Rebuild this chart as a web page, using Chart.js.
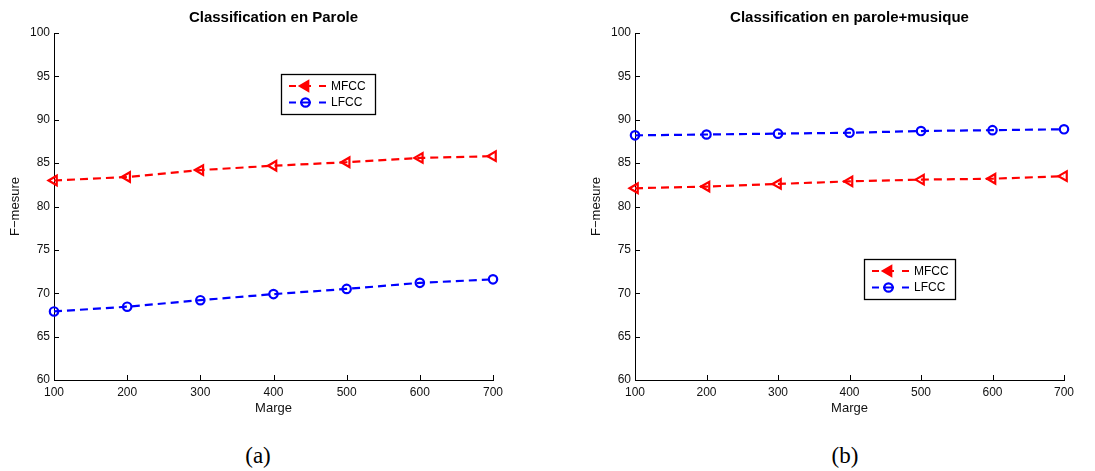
<!DOCTYPE html>
<html>
<head>
<meta charset="utf-8">
<script src="https://cdn.jsdelivr.net/npm/chart.js@4.4.1/dist/chart.umd.min.js"></script>
<style>
  body { margin: 0; background: #fff; width: 1095px; height: 471px; position: relative; overflow: hidden; }
  .panel { position: absolute; top: 0; }
  .panel canvas { display: block; }
  .cap { position: absolute; font-family: 'Liberation Serif', serif; font-size: 23px; line-height: 23px; color: #000; transform: translateX(-50%); }
</style>
</head>
<body>
<div class="panel" style="left:0"><canvas id="chartA" width="547" height="425"></canvas></div>
<div class="panel" style="left:547px"><canvas id="chartB" width="548" height="425"></canvas></div>
<div class="cap" style="left:258px;top:444px">(a)</div>
<div class="cap" style="left:845px;top:444px">(b)</div>
<script>
// values
const marges = [100, 200, 300, 400, 500, 600, 700];
const paroleMfcc = [83.0, 83.4, 84.2, 84.7, 85.1, 85.6, 85.8];
const paroleLfcc = [67.9, 68.45, 69.2, 69.9, 70.5, 71.2, 71.6];
const musiqueMfcc = [82.1, 82.3, 82.6, 82.9, 83.1, 83.2, 83.5];
const musiqueLfcc = [88.2, 88.3, 88.4, 88.5, 88.7, 88.8, 88.9];
const yMin = 60, yMax = 100, yStep = 5;

Chart.defaults.font.family = "'Liberation Sans', Arial, sans-serif";
Chart.defaults.font.size = 12;
Chart.defaults.color = '#111';

function drawMarker(ctx, style, cx, cy, r) {
  ctx.beginPath();
  if (style === 'triangle') {
    // pointing left, filled in the legend like the small MATLAB glyph
    let rad = -Math.PI / 2;
    for (let k = 0; k < 3; k++) {
      const px = cx + Math.sin(rad) * r, py = cy - Math.cos(rad) * r;
      if (k === 0) ctx.moveTo(px, py); else ctx.lineTo(px, py);
      rad += 2 * Math.PI / 3;
    }
    ctx.closePath();
    ctx.fillStyle = ctx.strokeStyle;
    ctx.fill();
  } else {
    ctx.arc(cx, cy, r, 0, Math.PI * 2);
  }
  ctx.stroke();
}

// MATLAB style ticks pointing into the plot
const insideTicks = {
  id: 'insideTicks',
  afterDatasetsDraw(chart) {
    const { ctx, chartArea: a, scales: { x, y } } = chart;
    ctx.save();
    ctx.strokeStyle = '#000';
    ctx.lineWidth = 1;
    ctx.beginPath();
    x.ticks.forEach(t => {
      const px = Math.round(x.getPixelForValue(t.value)) + 0.5;
      ctx.moveTo(px, a.bottom);
      ctx.lineTo(px, a.bottom - 5);
    });
    y.ticks.forEach(t => {
      const py = Math.round(y.getPixelForValue(t.value)) + 0.5;
      ctx.moveTo(a.left, py);
      ctx.lineTo(a.left + 5, py);
    });
    ctx.stroke();
    ctx.restore();
  }
};

// boxed legend placed inside the axes
const boxLegend = {
  id: 'boxLegend',
  afterDraw(chart, args, opts) {
    const { ctx } = chart;
    const { x, y, w, h } = opts;
    ctx.save();
    ctx.fillStyle = '#fff';
    ctx.fillRect(x, y, w, h);
    ctx.strokeStyle = '#000';
    ctx.lineWidth = 1.3;
    ctx.strokeRect(x + 0.5, y + 0.5, w, h);
    chart.data.datasets.forEach((ds, i) => {
      const cy = y + 12 + i * 16.5;
      ctx.strokeStyle = ds.borderColor;
      ctx.lineWidth = 2.2;
      ctx.beginPath();
      ctx.moveTo(x + 8, cy); ctx.lineTo(x + 15, cy);
      ctx.moveTo(x + 19, cy); ctx.lineTo(x + 30, cy);
      ctx.moveTo(x + 38, cy); ctx.lineTo(x + 45, cy);
      ctx.stroke();
      drawMarker(ctx, ds.pointStyle, x + 24.5, cy, ds.pointRadius);
      ctx.fillStyle = '#000';
      ctx.font = "12px 'Liberation Sans', Arial, sans-serif";
      ctx.textBaseline = 'middle';
      ctx.textAlign = 'left';
      ctx.fillText(ds.label, x + 50, cy + 0.5);
    });
    ctx.restore();
  }
};

function series(label, values, color, style) {
  return {
    label: label,
    data: marges.map((m, i) => ({ x: m, y: values[i] })),
    borderColor: color,
    borderWidth: 2.2,
    borderDash: [8, 5],
    tension: 0,
    clip: false,
    pointStyle: style,
    pointRotation: style === 'triangle' ? -90 : 0,
    pointRadius: style === 'triangle' ? 5.5 : 4.2,
    pointBorderWidth: 2.2,
    pointBorderColor: color,
    pointBackgroundColor: 'rgba(0,0,0,0)',
  };
}

function makeChart(id, title, mfcc, lfcc, pad, legendBox) {
  return new Chart(document.getElementById(id), {
    type: 'line',
    data: {
      datasets: [
        series('MFCC', mfcc, '#ff0000', 'triangle'),
        series('LFCC', lfcc, '#0000ff', 'circle'),
      ]
    },
    options: {
      responsive: false,
      animation: false,
      devicePixelRatio: 1,
      layout: { padding: pad },
      plugins: {
        legend: { display: false },
        tooltip: { enabled: false },
        title: {
          display: true,
          text: title,
          fullSize: false,
          color: '#000',
          font: { size: 15, weight: 'bold' },
          padding: { top: 8.5, bottom: 6.5 },
        },
        boxLegend: legendBox,
      },
      scales: {
        x: {
          type: 'linear',
          min: marges[0],
          max: marges[marges.length - 1],
          afterFit: s => { s.height = 45; },
          ticks: { stepSize: 100, padding: 5, color: '#111' },
          grid: { display: false, drawTicks: false },
          border: { display: true, color: '#000', width: 1 },
          title: { display: true, text: 'Marge', color: '#111', font: { size: 13 }, padding: { top: 0, bottom: 9 } },
        },
        y: {
          min: yMin,
          max: yMax,
          afterFit: s => { s.width = 54; },
          ticks: { stepSize: yStep, padding: 4, color: '#111' },
          grid: { display: false, drawTicks: false },
          border: { display: true, color: '#000', width: 1 },
          title: { display: true, text: 'F\u2212mesure', color: '#111', font: { size: 13 }, padding: 8 },
        }
      }
    },
    plugins: [insideTicks, boxLegend]
  });
}

makeChart('chartA', 'Classification en Parole', paroleMfcc, paroleLfcc,
  { left: 0, right: 54, top: 0, bottom: 0 }, { x: 281, y: 74, w: 94, h: 40 });
makeChart('chartB', 'Classification en parole+musique', musiqueMfcc, musiqueLfcc,
  { left: 34, right: 31, top: 0, bottom: 0 }, { x: 317, y: 259, w: 91, h: 40 });
</script>
</body>
</html>
